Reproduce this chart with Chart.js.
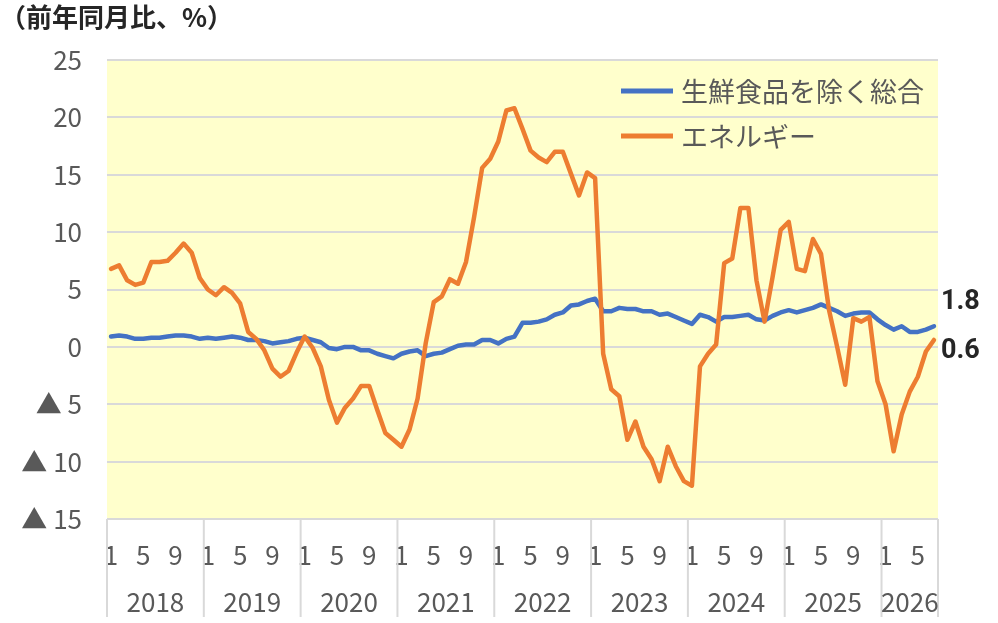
<!DOCTYPE html>
<html>
<head>
<meta charset="utf-8">
<script src="https://cdn.jsdelivr.net/npm/chart.js@4.4.1/dist/chart.umd.min.js"></script>
<style>
  html, body { margin: 0; padding: 0; background: #fff; }
  #wrap { width: 998px; height: 623px; position: relative; }
</style>
</head>
<body>
<div id="wrap"><canvas id="myChart"></canvas></div>
<script>
// data
const yearLabels = [2018, 2019, 2020, 2021, 2022, 2023, 2024, 2025, 2026];
const monthsInLastYear = 7;
const monthTicks = [1, 5, 9];

const coreCpi = [
  0.9, 1.0, 0.9, 0.7, 0.7, 0.8, 0.8, 0.9, 1.0, 1.0, 0.9, 0.7,
  0.8, 0.7, 0.8, 0.9, 0.8, 0.6, 0.6, 0.5, 0.3, 0.4, 0.5, 0.7,
  0.8, 0.6, 0.4, -0.1, -0.2, 0.0, 0.0, -0.3, -0.3, -0.6, -0.8, -1.0,
  -0.6, -0.4, -0.3, -0.8, -0.6, -0.5, -0.2, 0.1, 0.2, 0.2, 0.6, 0.6,
  0.3, 0.7, 0.9, 2.1, 2.1, 2.2, 2.4, 2.8, 3.0, 3.6, 3.7, 4.0,
  4.2, 3.1, 3.1, 3.4, 3.3, 3.3, 3.1, 3.1, 2.8, 2.9, 2.6, 2.3,
  2.0, 2.8, 2.6, 2.2, 2.6, 2.6, 2.7, 2.8, 2.4, 2.3, 2.7, 3.0,
  3.2, 3.0, 3.2, 3.4, 3.7, 3.4, 3.1, 2.7, 2.9, 3.0, 3.0, 2.4,
  1.9, 1.5, 1.8, 1.3, 1.3, 1.5, 1.8
];

const energy = [
  6.8, 7.1, 5.8, 5.4, 5.6, 7.4, 7.4, 7.5, 8.2, 9.0, 8.2, 6.0,
  5.0, 4.5, 5.2, 4.7, 3.8, 1.3, 0.7, -0.3, -1.9, -2.6, -2.1, -0.5,
  0.9, -0.1, -1.7, -4.6, -6.6, -5.3, -4.5, -3.4, -3.4, -5.5, -7.5, -8.1,
  -8.7, -7.2, -4.5, 0.3, 3.9, 4.4, 5.9, 5.5, 7.4, 11.3, 15.6, 16.4,
  17.9, 20.6, 20.8, 19.0, 17.1, 16.5, 16.1, 17.0, 17.0, 15.1, 13.2, 15.2,
  14.7, -0.6, -3.7, -4.3, -8.1, -6.5, -8.7, -9.8, -11.7, -8.7, -10.4, -11.7,
  -12.1, -1.7, -0.6, 0.2, 7.3, 7.7, 12.1, 12.1, 5.8, 2.2, 6.1, 10.2,
  10.9, 6.8, 6.6, 9.4, 8.1, 3.2, 0.0, -3.3, 2.5, 2.2, 2.6, -3.0,
  -5.0, -9.1, -5.9, -3.9, -2.6, -0.4, 0.6
];

const seriesNames = ["生鮮食品を除く総合", "エネルギー"];
const titleText = "（前年同月比、%）";

// month number for every category, year by year
const categories = [];
yearLabels.forEach((y, k) => {
  const n = k === yearLabels.length - 1 ? monthsInLastYear : 12;
  for (let m = 1; m <= n; m++) categories.push(String(m));
});

const FONT = "'Noto Sans CJK JP', 'Noto Sans', sans-serif";
const GRID = "#d9d9d9";
const TEXT = "#595959";
const BLUE = "#4472C4";
const ORANGE = "#ED7D31";

Chart.defaults.font.family = FONT;

const decor = {
  id: "decor",
  beforeDraw(chart) {
    const { ctx, chartArea: a } = chart;
    ctx.save();
    ctx.fillStyle = "#FFFFCC";
    ctx.fillRect(a.left, a.top, a.right - a.left, a.bottom - a.top);
    ctx.restore();
  },
  afterDraw(chart) {
    const { ctx, chartArea: a } = chart;
    const xs = chart.scales.x;
    const ys = chart.scales.y;
    const band = xs.getPixelForValue(1) - xs.getPixelForValue(0);

    ctx.save();

    // title
    ctx.fillStyle = "#262626";
    ctx.font = "bold 26px " + FONT;
    ctx.textAlign = "left";
    ctx.textBaseline = "middle";
    ctx.fillText(titleText, 0, 17);

    // year separators and year labels under the month ticks
    const bottom = chart.height - 6;
    ctx.strokeStyle = GRID;
    ctx.lineWidth = 2;
    let start = 0;
    yearLabels.forEach((y, k) => {
      const n = k === yearLabels.length - 1 ? monthsInLastYear : 12;
      const x0 = xs.getPixelForValue(start) - band / 2;
      const x1 = xs.getPixelForValue(start + n - 1) + band / 2;
      ctx.beginPath();
      ctx.moveTo(x0, a.bottom);
      ctx.lineTo(x0, bottom);
      ctx.stroke();
      if (k === yearLabels.length - 1) {
        ctx.beginPath();
        ctx.moveTo(x1, a.bottom);
        ctx.lineTo(x1, bottom);
        ctx.stroke();
      }
      ctx.fillStyle = TEXT;
      ctx.font = "26px " + FONT;
      ctx.textAlign = "center";
      ctx.fillText(String(y), (x0 + x1) / 2, 602);
      start += n;
    });

    // legend inside the plot, top right
    const lx = a.right - 317;
    const rows = [[BLUE, seriesNames[0], a.top + 31], [ORANGE, seriesNames[1], a.top + 76]];
    rows.forEach(([c, t, yy]) => {
      ctx.strokeStyle = c;
      ctx.lineWidth = 5;
      ctx.beginPath();
      ctx.moveTo(lx, yy);
      ctx.lineTo(lx + 52, yy);
      ctx.stroke();
      ctx.fillStyle = TEXT;
      ctx.font = "27px " + FONT;
      ctx.textAlign = "left";
      ctx.fillText(t, lx + 60, yy + 1);
    });

    // labels for the latest values
    const last = categories.length - 1;
    const px = xs.getPixelForValue(last) + 7;
    ctx.fillStyle = "#262626";
    ctx.font = "bold 27px Roboto, " + FONT;
    ctx.textAlign = "left";
    ctx.fillText(coreCpi[last].toFixed(1), px, ys.getPixelForValue(coreCpi[last]) - 24);
    ctx.fillText(energy[last].toFixed(1), px, ys.getPixelForValue(energy[last]) + 11);

    ctx.restore();
  }
};

const ctx = document.getElementById("myChart").getContext("2d");

const myChart = new Chart(ctx, {
  type: "line",
  data: {
    labels: categories,
    datasets: [
      {
        label: seriesNames[0],
        data: coreCpi,
        borderColor: BLUE,
        borderWidth: 4.5,
        pointRadius: 0,
        borderJoinStyle: "round",
        borderCapStyle: "round",
        order: 1,
      },
      {
        label: seriesNames[1],
        data: energy,
        borderColor: ORANGE,
        borderWidth: 4.5,
        pointRadius: 0,
        borderJoinStyle: "round",
        borderCapStyle: "round",
        order: 0,
      },
    ],
  },
  plugins: [decor],
  options: {
    responsive: true,
    maintainAspectRatio: false,
    animation: false,
    layout: {
      padding: { top: 60, right: 60, bottom: 0, left: 0 },
    },
    scales: {
      x: {
        offset: true,
        grid: { display: false },
        border: { display: false },
        ticks: {
          autoSkip: false,
          maxRotation: 0,
          minRotation: 0,
          padding: 13,
          color: TEXT,
          font: { size: 26 },
          callback: function (val) {
            const m = Number(this.getLabelForValue(val));
            return monthTicks.includes(m) ? String(m) : "";
          },
        },
        afterFit: (scale) => {
          scale.height = 104;
        },
      },
      y: {
        min: -15,
        max: 25,
        grid: { color: GRID, lineWidth: 2, drawTicks: false },
        border: { display: false },
        ticks: {
          stepSize: 5,
          padding: 25,
          color: TEXT,
          font: { size: 26 },
          callback: (v) => (v < 0 ? "▲ " + -v : String(v)),
        },
        afterFit: (scale) => {
          scale.width = 107;
        },
      },
    },
    plugins: {
      legend: { display: false },
      tooltip: { enabled: false },
    },
  },
});
</script>
</body>
</html>
